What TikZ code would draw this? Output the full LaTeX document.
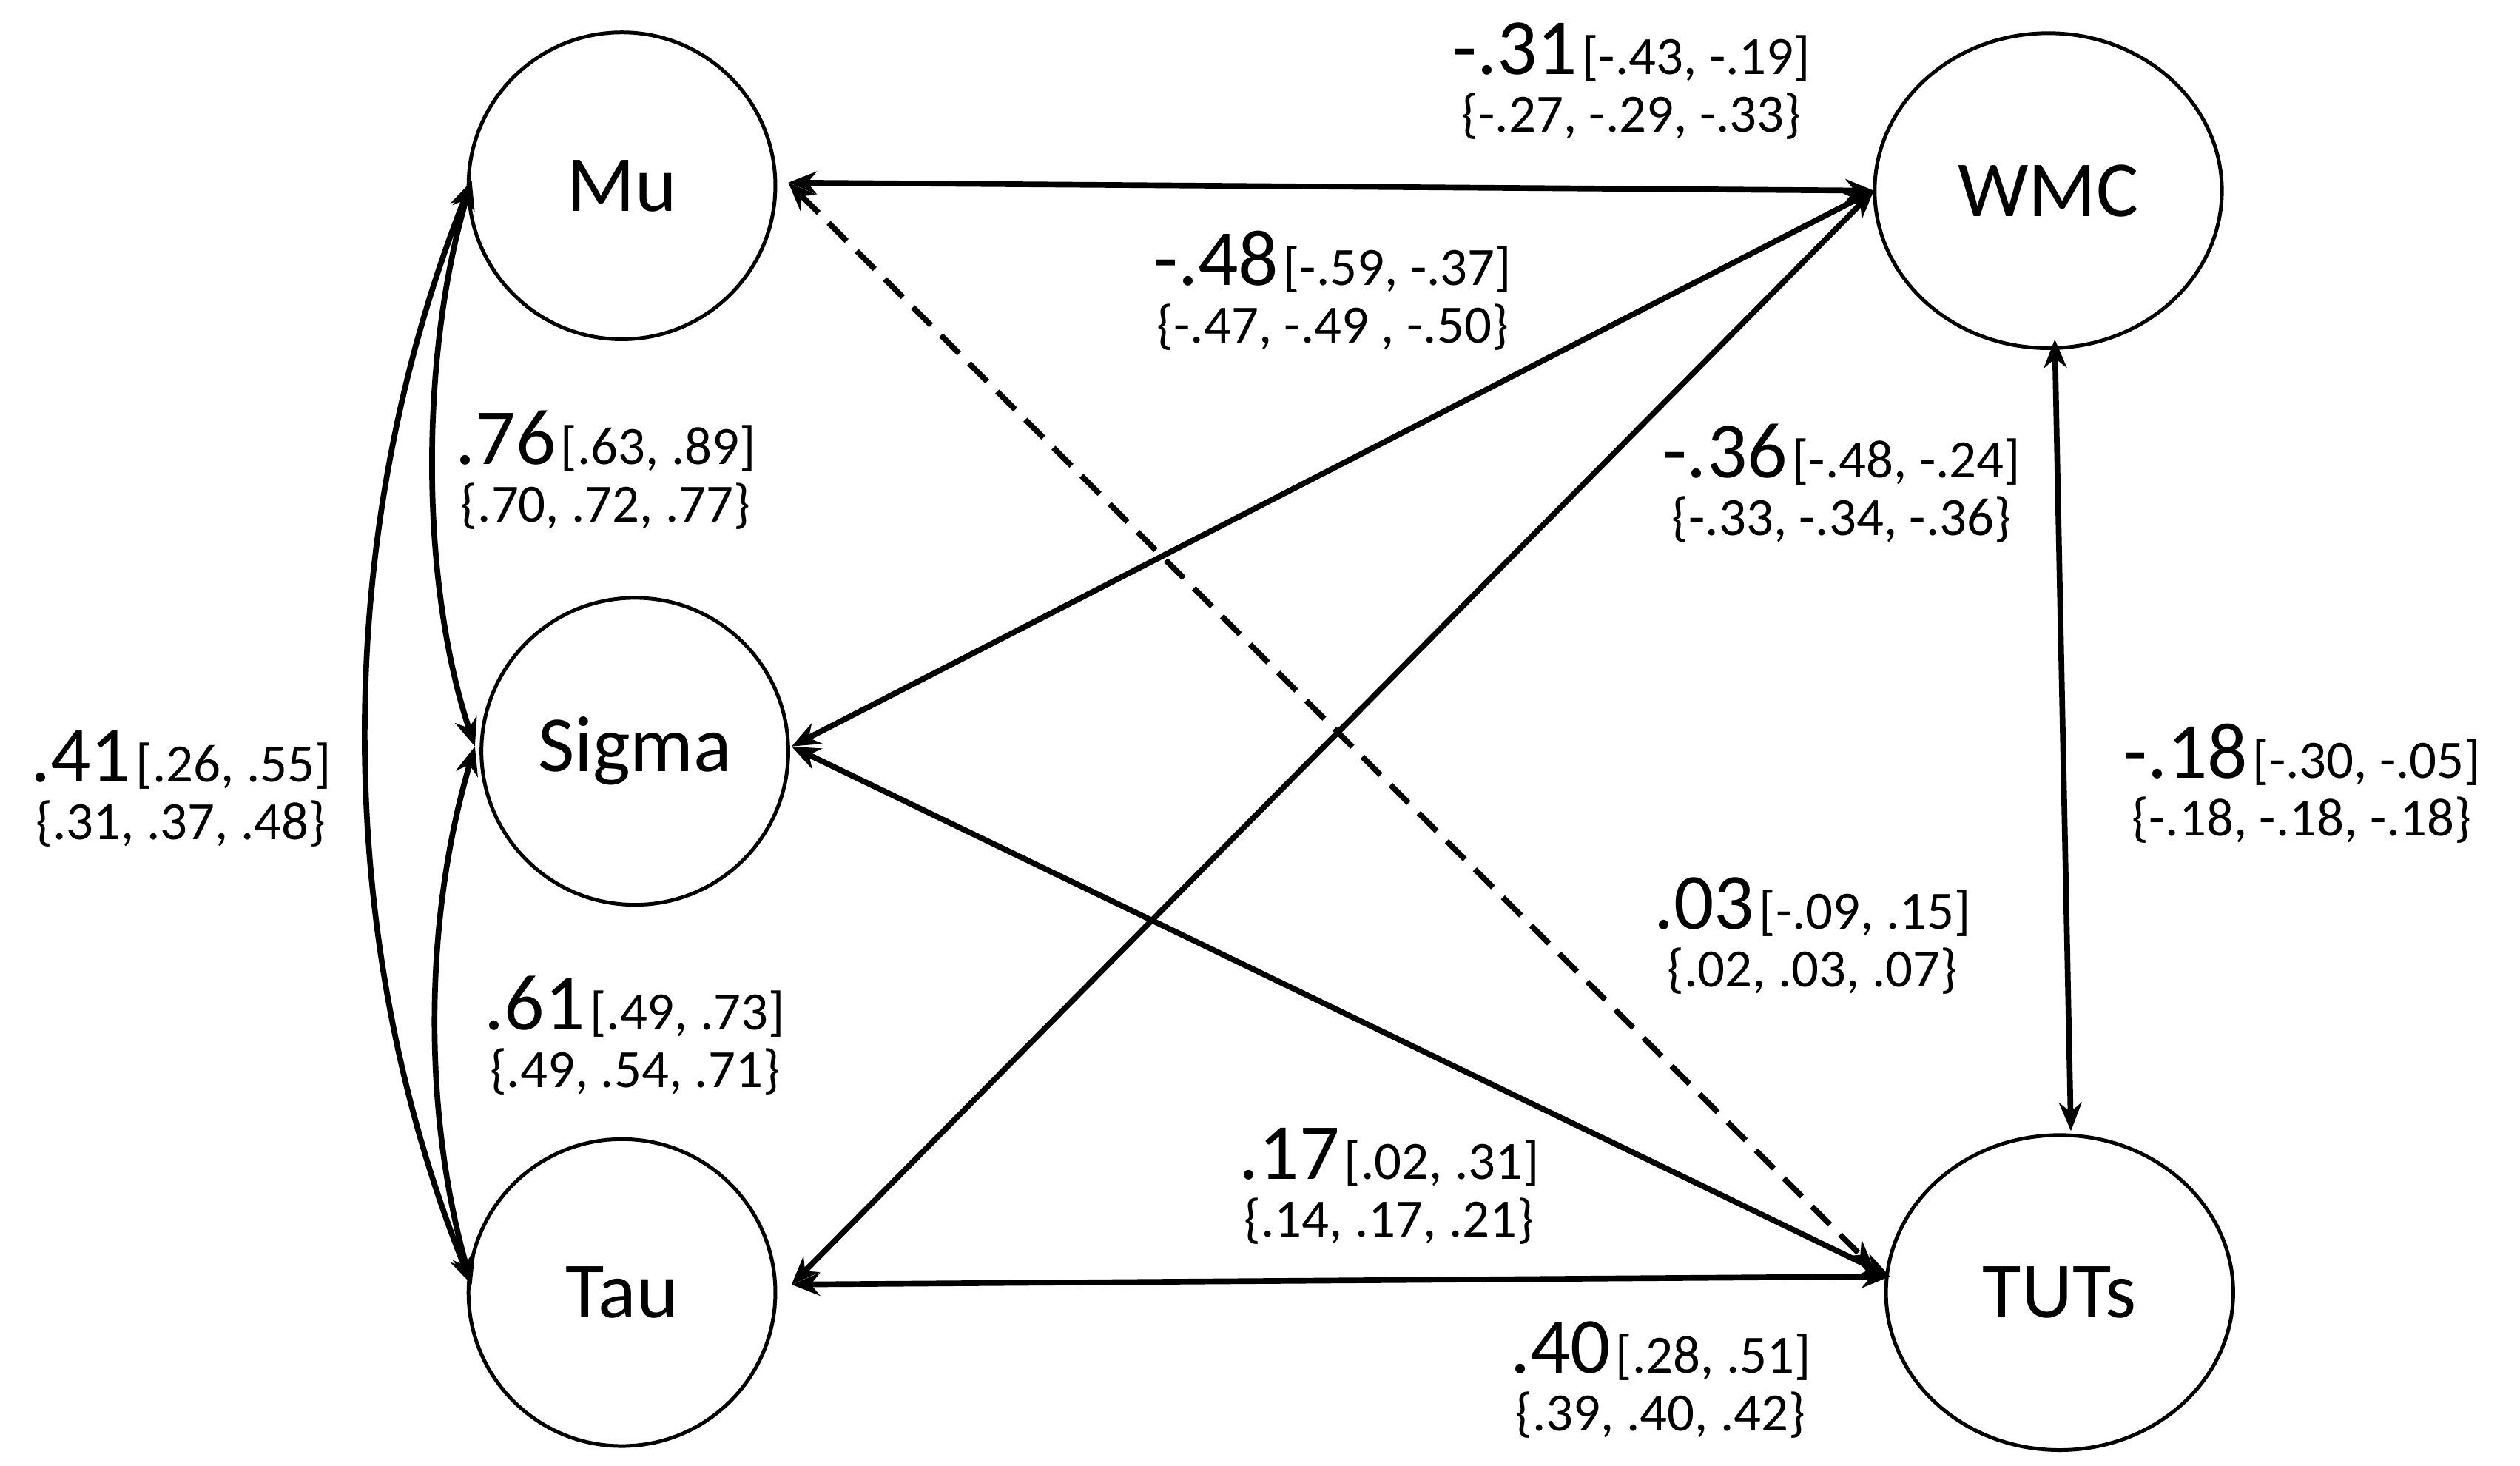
\documentclass[tikz,border=0pt]{standalone}
\usepackage{fontspec}
\setmainfont{Carlito}
\usetikzlibrary{arrows.meta,shapes.geometric}
\newcommand{\mylab}[3]{{\fontsize{28}{30}\selectfont #1}\,{\fontsize{19}{22}\selectfont #2}\\[3pt]{\fontsize{19}{22}\selectfont #3}}
\begin{document}
\begin{tikzpicture}[x=0.02cm,y=-0.02cm,
  lat/.style={draw,line width=1.3pt,ellipse,minimum width=3.8cm,minimum height=3.8cm,font=\fontsize{28}{30}\selectfont},
  latw/.style={lat,minimum width=4.3cm,minimum height=3.9cm},
  con/.style={line width=2pt,{Stealth[length=10pt,width=8pt]}-{Stealth[length=10pt,width=8pt]}},
  lab/.style={align=center,inner sep=0pt}]
\useasboundingbox (0,0) rectangle (1560,907);
\node[lat] (mu) at (385,115) {Mu};
\node[lat] (sig) at (393,465) {Sigma};
\node[lat] (tau) at (385,800) {Tau};
\node[latw] (wmc) at (1268,118) {WMC};
\node[latw] (tut) at (1275,800) {TUTs};
\coordinate (muE) at (488,113);
\coordinate (muW) at (292,112);
\coordinate (sigE) at (490,462);
\coordinate (sigW) at (294,462);
\coordinate (tauE) at (490,795);
\coordinate (tauW) at (292,795);
\coordinate (wmcW) at (1160,118);
\coordinate (wmcS) at (1272,210);
\coordinate (tutN) at (1282,700);
\coordinate (tutW) at (1170,790);
\coordinate (tutNW) at (1160,785);
\draw[con] (muE) -- (wmcW);
\draw[con,dash pattern=on 9pt off 5pt] (muE) -- (tutNW);
\draw[con] (wmcW) -- (sigE);
\draw[con] (wmcW) -- (tauE);
\draw[con] (sigE) -- (tutW);
\draw[con] (tauE) -- (tutW);
\draw[con] (wmcS) -- (tutN);
\draw[con] (muW) .. controls (260,220) and (260,360) .. (sigW);
\draw[con] (sigW) .. controls (262,570) and (262,690) .. (tauW);
\draw[con] (muW) .. controls (205,330) and (205,580) .. (tauW);
\node[lab] (l1) at (1010,50) {\mylab{-.31}{[-.43, -.19]}{\{-.27, -.29, -.33\}}};
\node[lab] (l2) at (825,180) {\mylab{-.48}{[-.59, -.37]}{\{-.47, -.49 , -.50\}}};
\node[lab] (l3) at (375,291) {\mylab{.76}{[.63, .89]}{\{.70, .72, .77\}}};
\node[lab] (l4) at (112,488) {\mylab{.41}{[.26, .55]}{\{.31, .37, .48\}}};
\node[lab] (l5) at (393,641) {\mylab{.61}{[.49, .73]}{\{.49, .54, .71\}}};
\node[lab] (l6) at (1140,299) {\mylab{-.36}{[-.48, -.24]}{\{-.33, -.34, -.36\}}};
\node[lab] (l7) at (1425,485) {\mylab{-.18}{[-.30, -.05]}{\{-.18, -.18, -.18\}}};
\node[lab] (l8) at (1122,579) {\mylab{.03}{[-.09, .15]}{\{.02, .03, .07\}}};
\node[lab] (l9) at (860,734) {\mylab{.17}{[.02, .31]}{\{.14, .17, .21\}}};
\node[lab] (l10) at (1028,854) {\mylab{.40}{[.28, .51]}{\{.39, .40, .42\}}};
\end{tikzpicture}
\end{document}
